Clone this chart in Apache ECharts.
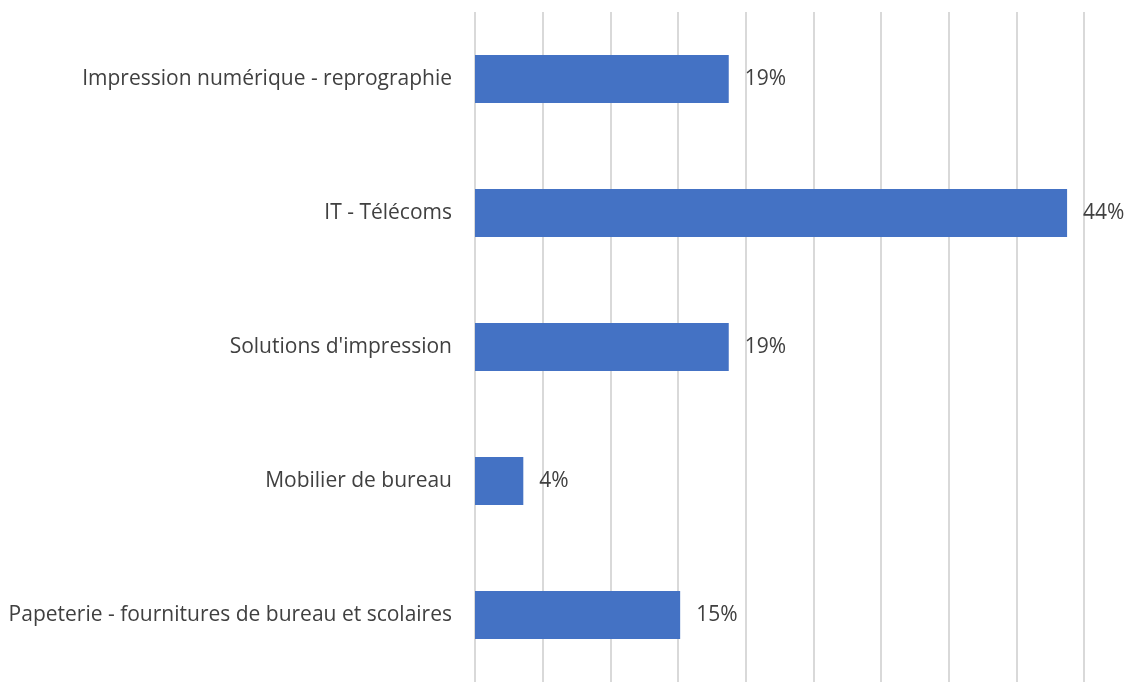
<!DOCTYPE html>
<html>
<head>
<meta charset="utf-8">
<script src="https://cdn.jsdelivr.net/npm/echarts@6/dist/echarts.min.js"></script>
<style>
  html, body { margin: 0; padding: 0; background: #fff; }
  #chart { width: 1146px; height: 682px; }
</style>
</head>
<body>
<div id="chart"></div>
<script>
// categories top to bottom
const categories = [
  'Impression numérique - reprographie',
  'IT - Télécoms',
  "Solutions d'impression",
  'Mobilier de bureau',
  'Papeterie - fournitures de bureau et scolaires'
]
// shares in percent
const shares = [18.75, 43.75, 18.75, 3.57, 15.16]
const axisTicks = { min: 0, max: 45, interval: 5 }

const chart = echarts.init(document.getElementById('chart'))
const option = {
  animation: false,
  textStyle: { fontFamily: 'Open Sans' },
  grid: { left: 475, top: 12, width: 609, height: 677, containLabel: false },
  xAxis: {
    type: 'value',
    min: axisTicks.min,
    max: axisTicks.max,
    interval: axisTicks.interval,
    axisLabel: { show: false },
    axisLine: { show: false },
    axisTick: { show: false },
    splitLine: { show: true, lineStyle: { color: '#d9d9d9', width: 2 } }
  },
  yAxis: {
    type: 'category',
    inverse: true,
    data: categories,
    axisLine: { show: false },
    axisTick: { show: false },
    axisLabel: { color: '#404040', fontSize: 21, margin: 23, fontFamily: 'Open Sans' }
  },
  series: [
    {
      type: 'bar',
      data: shares,
      barWidth: 48,
      itemStyle: { color: '#4472c4' },
      label: {
        show: true,
        position: 'right',
        distance: 16,
        color: '#404040',
        fontSize: 21,
        fontFamily: 'Open Sans',
        formatter: p => Math.round(p.value) + '%'
      }
    }
  ]
}
chart.setOption(option)
</script>
</body>
</html>
